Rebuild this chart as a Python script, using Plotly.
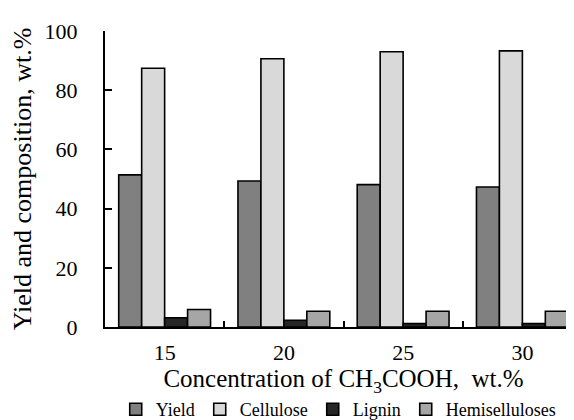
import plotly.graph_objects as go

categories = ["15", "20", "25", "30"]
yield_vals = [51.4, 49.3, 48.1, 47.3]
cellulose_vals = [87.4, 90.6, 93.0, 93.3]
lignin_vals = [3.1, 2.3, 1.2, 1.2]
hemi_vals = [5.9, 5.3, 5.3, 5.3]

series = [
    ("Yield", yield_vals, "#808080"),
    ("Cellulose", cellulose_vals, "#d9d9d9"),
    ("Lignin", lignin_vals, "#262626"),
    ("Hemiselluloses", hemi_vals, "#a6a6a6"),
]

FONT = "Liberation Serif"

fig = go.Figure()
for name, vals, color in series:
    fig.add_trace(go.Bar(
        name=name, x=categories, y=vals,
        marker=dict(color=color, line=dict(color="black", width=1.6)),
    ))

fig.update_layout(
    width=574, height=420,
    margin=dict(l=97, r=0, t=23, b=96),
    paper_bgcolor="white", plot_bgcolor="white",
    barmode="group", bargap=0.23, bargroupgap=0,
    font=dict(family=FONT, size=22, color="black"),
    showlegend=True,
    legend=dict(
        orientation="h", x=0.49, xanchor="center", y=-0.28, yanchor="middle",
        font=dict(family=FONT, size=18, color="black"),
        itemwidth=30, tracegroupgap=0,
    ),
    xaxis=dict(
        type="category", showline=True, linecolor="black", linewidth=2,
        ticks="inside", tickson="boundaries", ticklen=6, tickwidth=1.5,
        tickcolor="black", showgrid=False, ticklabelstandoff=5,
        tickfont=dict(family=FONT, size=22),
        title=dict(text="Concentration of CH<sub>3</sub>COOH,  wt.%",
                   font=dict(family=FONT, size=25), standoff=0),
    ),
    yaxis=dict(
        range=[0, 100], dtick=20, showline=True, linecolor="black", linewidth=2,
        ticks="inside", ticklen=7, tickwidth=1.5, tickcolor="black",
        showgrid=False, zeroline=False, ticklabelstandoff=21,
        tickfont=dict(family=FONT, size=22),
        title=dict(text="Yield and composition, wt.%",
                   font=dict(family=FONT, size=26), standoff=6),
    ),
)

fig.write_html("out.html")
